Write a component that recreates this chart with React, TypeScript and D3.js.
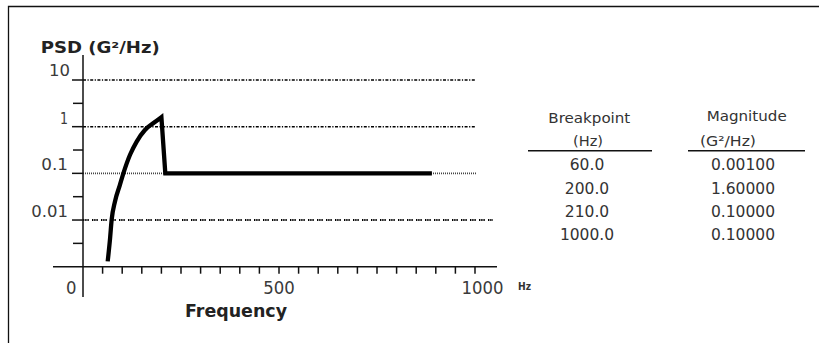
import React from "react";
import * as d3 from "d3";

// ---- data ----
const curveFreq = [63, 69, 73, 81.6, 94, 103, 120, 137, 158, 179, 200, 210, 890];
const curvePsd = [0.0013, 0.004, 0.01, 0.025, 0.056, 0.1, 0.25, 0.48, 0.85, 1.18, 1.6, 0.1, 0.1];
const yMajorTicks = [10, 1, 0.1, 0.01];
const yMajorLabels = ["10", "1", "0.1", "0.01"];
const yMinorTicks = [3.162, 0.3162, 0.03162, 0.003162];
const xTicks = d3.range(50, 1001, 50);
const xLabels = [
  { v: 0, t: "0" },
  { v: 500, t: "500" },
  { v: 1000, t: "1000" },
];
const tableBreakpoints = ["60.0", "200.0", "210.0", "1000.0"];
const tableMagnitudes = ["0.00100", "1.60000", "0.10000", "0.10000"];

const FONT = "'DejaVu Sans', Verdana, sans-serif";

export default function App() {
  const x = d3.scaleLinear().domain([0, 1000]).range([83, 475]);
  const y = d3.scaleLog().domain([0.001, 10]).range([266.7, 80]);
  const x0 = x(0);
  const yBase = y(0.001);

  const rise: [number, number][] = curveFreq.slice(0, 11).map((f, i) => [f, curvePsd[i]]);
  const rest: [number, number][] = curveFreq.slice(10).map((f, i) => [f, curvePsd[i + 10]]);
  const smooth = d3
    .line<[number, number]>()
    .x((d) => x(d[0]))
    .y((d) => y(d[1]))
    .curve(d3.curveMonotoneX);
  const straight = d3
    .line<[number, number]>()
    .x((d) => x(d[0]))
    .y((d) => y(d[1]));
  const restPath = (straight(rest) || "").replace(/^M/, "L");
  const curvePath = (smooth(rise) || "") + restPath;

  const gridStyles: Record<string, { end: number; dash: string; w: number; c: string }> = {
    "10": { end: 475, dash: "3,1.5,1.2,1.5", w: 1.5, c: "#000" },
    "1": { end: 475, dash: "3,1.5,1.2,1.5", w: 1.5, c: "#000" },
    "0.1": { end: 477, dash: "1,1", w: 1.6, c: "#444" },
    "0.01": { end: 493, dash: "1.4,0.8,1.4,0.8,1.4,3.2", w: 2, c: "#000" },
  };

  const yLabelWidths = [21, 8, 26.7, 36.7];
  const yLabelRight = [70, 68, 68, 68];
  const yLabelOffset = [-4, -3, -3, -3];

  const rowBase = [170, 194, 217, 240];

  return (
    <svg
      width={819}
      height={343}
      style={{ position: "absolute", left: 0, top: 0, background: "#fff" }}
      fontFamily={FONT}
    >
      {/* frame */}
      <path d="M8.5,343 V6.5 H819" fill="none" stroke="#111" strokeWidth={1.3} />

      {/* title */}
      <text x={40.7} y={53} fontSize={16} fontWeight="bold" fill="#222" textLength={119} lengthAdjust="spacingAndGlyphs">
        PSD (G²/Hz)
      </text>

      {/* grid lines */}
      {yMajorTicks.map((v, i) => {
        const s = gridStyles[yMajorLabels[i]];
        return (
          <line
            key={"g" + i}
            x1={x0}
            x2={s.end}
            y1={y(v)}
            y2={y(v)}
            stroke={s.c}
            strokeWidth={s.w}
            strokeDasharray={s.dash}
          />
        );
      })}

      {/* y axis */}
      <line x1={x0} x2={x0} y1={55} y2={297} stroke="#111" strokeWidth={1.5} />
      {yMajorTicks.map((v, i) => (
        <line key={"ym" + i} x1={72} x2={x0} y1={y(v)} y2={y(v)} stroke="#111" strokeWidth={1.5} />
      ))}
      {yMinorTicks.map((v, i) => (
        <line key={"yn" + i} x1={73} x2={x0} y1={y(v)} y2={y(v)} stroke="#111" strokeWidth={1.5} />
      ))}
      {yMajorTicks.map((v, i) => (
        <text
          key={"yl" + i}
          x={yLabelRight[i] - yLabelWidths[i]}
          y={y(v) + yLabelOffset[i]}
          fontSize={15}
          fill="#3a3a3a"
          textLength={yLabelWidths[i]}
          lengthAdjust="spacingAndGlyphs"
        >
          {yMajorLabels[i]}
        </text>
      ))}

      {/* x axis */}
      <line x1={53} x2={497} y1={yBase} y2={yBase} stroke="#111" strokeWidth={1.5} />
      {xTicks.map((v) => (
        <line key={"xt" + v} x1={x(v)} x2={x(v)} y1={yBase} y2={yBase + 7} stroke="#111" strokeWidth={1.5} />
      ))}
      {xLabels.map((l) => {
        const cx = x(l.v);
        const w = l.t.length * 10.5;
        let left = cx - w / 2;
        if (l.v === 0) left = cx - 6.5 - w;
        if (l.v === 1000) left = cx - 13.5;
        return (
          <text
            key={"xl" + l.v}
            x={left}
            y={293.5}
            fontSize={17}
            fill="#3a3a3a"
            textLength={w}
            lengthAdjust="spacingAndGlyphs"
          >
            {l.t}
          </text>
        );
      })}
      <text x={518} y={290} fontSize={11} fontWeight="bold" fill="#333" textLength={13} lengthAdjust="spacingAndGlyphs">
        Hz
      </text>
      <text x={185} y={316.7} fontSize={17} fontWeight="bold" fill="#222" textLength={102} lengthAdjust="spacingAndGlyphs">
        Frequency
      </text>

      {/* PSD curve */}
      <path d={curvePath} fill="none" stroke="#000" strokeWidth={4.3} strokeLinejoin="miter" strokeMiterlimit={10} />

      {/* table */}
      <g fill="#333">
        <text x={548.3} y={123.3} fontSize={13.5} textLength={82} lengthAdjust="spacingAndGlyphs">
          Breakpoint
        </text>
        <text x={573} y={145.5} fontSize={13.5} textLength={30} lengthAdjust="spacingAndGlyphs">
          (Hz)
        </text>
        <text x={706.7} y={121} fontSize={13.5} textLength={80} lengthAdjust="spacingAndGlyphs">
          Magnitude
        </text>
        <text x={700} y={145.5} fontSize={13.5} textLength={56} lengthAdjust="spacingAndGlyphs">
          (G²/Hz)
        </text>
      </g>
      <line x1={528} x2={652} y1={150.7} y2={150.7} stroke="#111" strokeWidth={1.5} />
      <line x1={688} x2={805} y1={150.7} y2={150.7} stroke="#111" strokeWidth={1.5} />
      {tableBreakpoints.map((t, i) => (
        <text key={"tb" + i} x={587} y={rowBase[i]} fontSize={15.5} fill="#333" textAnchor="middle">
          {t}
        </text>
      ))}
      {tableMagnitudes.map((t, i) => (
        <text key={"tm" + i} x={743} y={rowBase[i]} fontSize={15.5} fill="#333" textAnchor="middle">
          {t}
        </text>
      ))}
    </svg>
  );
}
